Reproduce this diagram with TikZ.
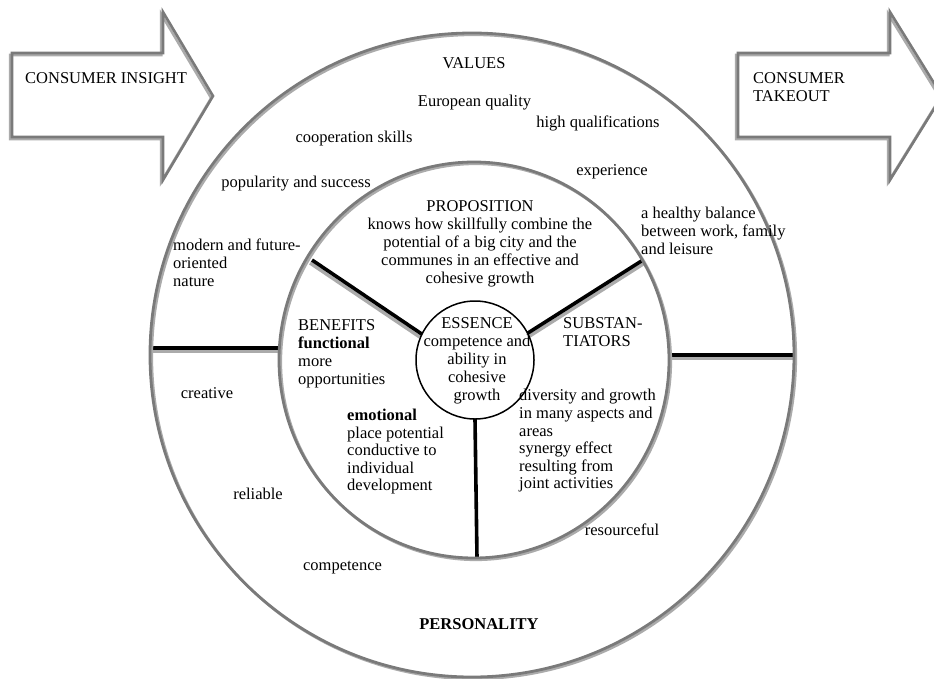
\documentclass[tikz,border=0pt]{standalone}
\usepackage{fontspec}
\setmainfont{Liberation Serif}
\definecolor{lineDark}{HTML}{7A7A7A}
\definecolor{lineLight}{HTML}{ABABAB}
\tikzset{
  ring/.style={draw=lineDark, line width=2.8pt},
  ringshade/.style={draw=lineLight, line width=2.6pt},
  arrowshape/.style={draw=lineDark, line width=2.6pt, line join=miter},
  arrowshade/.style={draw=lineLight, line width=2.6pt, line join=miter},
  spoke/.style={draw=black, line width=3.6pt},
  spokeshade/.style={draw=lineLight, line width=3.4pt},
  txt/.style={font=\fontsize{16.5}{18}\selectfont, inner sep=0pt},
  essring/.style={circle, minimum size=118pt, inner sep=0pt},
}
\begin{document}
\begin{tikzpicture}[x=1pt,y=-1pt]
\useasboundingbox (0,0) rectangle (934,678);
\clip (0,0) rectangle (934,678);

% ---------- arrows ----------
\draw[arrowshade, shift={(-1.8,2)}] (12,53) -- (163,53) -- (163,12) -- (213,96) -- (163,180) -- (163,137) -- (12,137) -- cycle;
\draw[arrowshape] (12,53) -- (163,53) -- (163,12) -- (213,96) -- (163,180) -- (163,137) -- (12,137) -- cycle;
\draw[arrowshade, shift={(-1.8,2)}] (738,53) -- (890,53) -- (890,12) -- (942,96) -- (890,180) -- (890,137) -- (738,137) -- cycle;
\draw[arrowshape] (738,53) -- (890,53) -- (890,12) -- (942,96) -- (890,180) -- (890,137) -- (738,137) -- cycle;

\node[txt, anchor=west] (insight) at (25,78) {CONSUMER INSIGHT};
\node[txt, anchor=west, align=left] (takeout) at (753,87) {CONSUMER\\TAKEOUT};

% ---------- spokes ----------
\node[essring] (ess) at (475,360) {};
\coordinate (ul) at (312,260);
\coordinate (ur) at (643,260);
\coordinate (bt) at (477,558);
\coordinate (hl1) at (150,348);
\coordinate (hl2) at (280,348);
\coordinate (hr1) at (668,355);
\coordinate (hr2) at (793,355);

\draw[spokeshade] ([shift={(-2,3)}]ul) -- ([shift={(-2,3)}]ess.154);
\draw[spoke] (ul) -- (ess.154);
\draw[spokeshade] ([shift={(1.8,3)}]ur) -- ([shift={(1.8,3)}]ess.27);
\draw[spoke] (ur) -- (ess.27);
\draw[spoke] (ess.270) -- (bt);
\draw[spokeshade] ([shift={(0,3.5)}]hl1) -- ([shift={(0,3.5)}]hl2);
\draw[spoke] (hl1) -- (hl2);
\draw[spokeshade] ([shift={(0,3.5)}]hr1) -- ([shift={(0,3.5)}]hr2);
\draw[spoke] (hr1) -- (hr2);

% ---------- rings ----------
\coordinate (oc) at (472,355);
\coordinate (mc) at (474,360);
\draw[ringshade] ([shift={(1.8,1.8)}]oc) circle[radius=322];
\draw[ring] (oc) circle[radius=322];
\draw[ringshade] ([shift={(1.8,1.8)}]mc) circle[x radius=195, y radius=198];
\draw[ring] (mc) circle[x radius=195, y radius=198];
\draw[line width=1.5pt] (ess) circle[radius=59];

% ---------- values ----------
\node[txt] (values) at (474,63) {VALUES};
\node[txt] (euro) at (474.5,103) {European quality};
\node[txt] (highq) at (598,123) {high qualifications};
\node[txt] (coop) at (354,139) {cooperation skills};
\node[txt] (exper) at (612,172) {experience};
\node[txt] (popul) at (296,184) {popularity and success};
\node[txt, anchor=west, align=left] (health) at (641,231) {a healthy balance\\between work, family\\and leisure};
\node[txt, anchor=west, align=left] (modern) at (173,263) {modern and future-\\oriented\\nature};

% ---------- proposition ----------
\node[txt, align=center] (prop) at (480,244) {PROPOSITION\\knows how skillfully combine the\\potential of a big city and the\\communes in an effective and\\cohesive growth};

% ---------- benefits ----------
\node[txt, anchor=west, align=left] (benef) at (298,354) {BENEFITS\\\textbf{functional}\\more\\opportunities};
\node[txt, anchor=west, align=left, font=\fontsize{16.5}{17.5}\selectfont] (emot) at (347,452) {\textbf{emotional}\\place potential\\conductive to\\individual\\development};

% ---------- essence ----------
\node[txt, align=center] (esstxt) at (477,361) {ESSENCE\\competence and\\ability in\\cohesive\\growth};

% ---------- substantiators ----------
\node[txt, anchor=west, align=left] (subst) at (563,332) {SUBSTAN-\\TIATORS};
\node[txt, anchor=west, align=left, font=\fontsize{16.5}{17.6}\selectfont] (divers) at (519,441) {diversity and growth\\in many aspects and\\areas\\synergy effect\\resulting from\\joint activities};

% ---------- personality ----------
\node[txt] (creat) at (207,393) {creative};
\node[txt] (relia) at (258,494) {reliable};
\node[txt] (compet) at (342.5,568) {competence};
\node[txt] (resou) at (622,530) {resourceful};
\node[txt, font=\fontsize{16.5}{18}\selectfont\bfseries] (perso) at (479,624) {PERSONALITY};
\end{tikzpicture}
\end{document}
